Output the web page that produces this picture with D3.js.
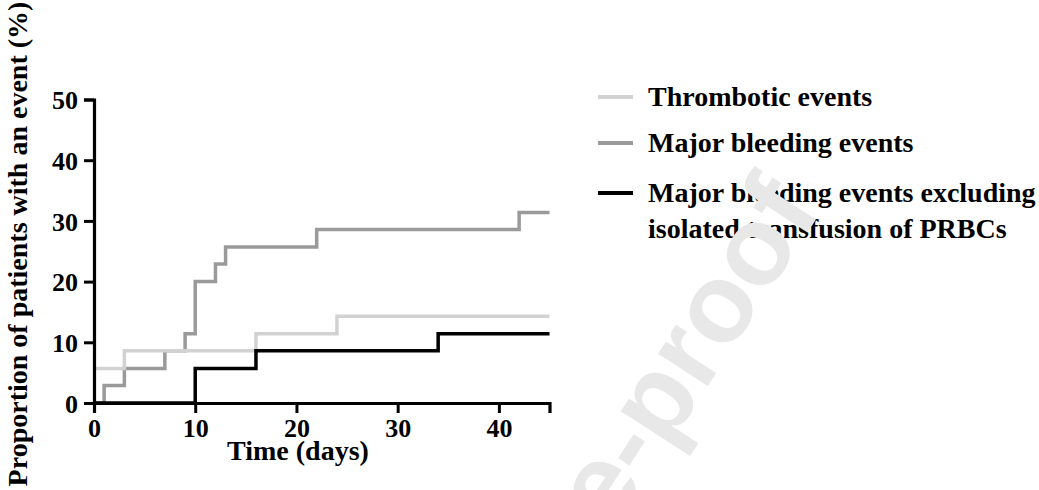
<!DOCTYPE html>
<html>
<head>
<meta charset="utf-8">
<script src="https://cdn.jsdelivr.net/npm/d3@7"></script>
<style>
  body { margin: 0; background: #fff; }
  text { font-family: 'Liberation Serif', 'Times New Roman', serif; font-weight: bold; }
</style>
</head>
<body>
<div class="chart"></div>
<script>
  const width = 1039;
  const height = 490;

  // step times (days) and cumulative proportions (%)
  const thromboTimes = [0, 3, 16, 24, 45];
  const thromboValues = [5.7, 8.6, 11.4, 14.3, 14.3];
  const bleedTimes = [0, 1, 3, 7, 9, 10, 12, 13, 22, 42, 45];
  const bleedValues = [0, 2.9, 5.7, 8.6, 11.4, 20, 22.9, 25.7, 28.6, 31.4, 31.4];
  const bleedExclTimes = [0, 10, 16, 34, 45];
  const bleedExclValues = [0, 5.7, 8.6, 11.4, 11.4];

  const xTicks = [0, 10, 20, 30, 40];
  const yTicks = [0, 10, 20, 30, 40, 50];
  const legendLabels = [
    ['Thrombotic events'],
    ['Major bleeding events'],
    ['Major bleeding events excluding', 'isolated transfusion of PRBCs'],
  ];

  const series = [
    { key: 'bleed', times: bleedTimes, values: bleedValues, color: '#9a9a9a' },
    { key: 'thrombo', times: thromboTimes, values: thromboValues, color: '#d2d2d2' },
    { key: 'excl', times: bleedExclTimes, values: bleedExclValues, color: '#000' },
  ]
  const legendColors = ['#d2d2d2', '#9a9a9a', '#000']

  const xScale = d3.scaleLinear().domain([0, 45]).range([94, 549.5])
  const yScale = d3.scaleLinear().domain([0, 50]).range([403, 99.5])

  const svg = d3.select('.chart').append('svg')
    .attr('width', width)
    .attr('height', height)

  const line = d3.line()
    .x(d => xScale(d[0]))
    .y(d => yScale(d[1]))
    .curve(d3.curveStepAfter)

  svg.append('g').selectAll('path')
    .data(series)
    .join('path')
    .attr('d', s => line(s.times.map((t, i) => [t, s.values[i]])))
    .attr('fill', 'none')
    .attr('stroke', s => s.color)
    .attr('stroke-width', 3.5)

  const xAxis = d3.axisBottom(xScale).tickValues(xTicks).tickSizeOuter(0).tickSize(10).tickPadding(6)
  const yAxis = d3.axisLeft(yScale).tickValues(yTicks).tickSizeOuter(0).tickSize(10).tickPadding(6)

  svg.append('g')
    .attr('transform', `translate(0, ${yScale(0)})`)
    .call(xAxis)
    .call(g => g.select('.domain').attr('stroke-width', 3.2))
    .call(g => g.selectAll('.tick line').attr('stroke-width', 3))
    .call(g => g.selectAll('text').style('font-size', '26px').attr('fill', '#000'))

  svg.append('g')
    .attr('transform', `translate(${xScale(0)}, 0)`)
    .call(yAxis)
    .call(g => g.select('.domain').attr('stroke-width', 3.2))
    .call(g => g.selectAll('.tick line').attr('stroke-width', 3))
    .call(g => g.selectAll('text').style('font-size', '26px').attr('fill', '#000').attr('dy', '0.35em'))

  svg.append('text')
    .attr('x', 298)
    .attr('y', 460)
    .attr('text-anchor', 'middle')
    .style('font-size', '28px')
    .text('Time (days)')

  svg.append('text')
    .attr('transform', 'translate(27, 244) rotate(-90)')
    .attr('text-anchor', 'middle')
    .style('font-size', '28px')
    .text('Proportion of patients with an event (%)')

  // legend
  const legendY = [97, 143, 193]
  const legend = svg.append('g').selectAll('g')
    .data(legendLabels)
    .join('g')
    .attr('transform', (d, i) => `translate(598, ${legendY[i]})`)

  legend.append('line')
    .attr('x1', 0).attr('x2', 35)
    .attr('stroke', (d, i) => legendColors[i])
    .attr('stroke-width', 4)

  legend.append('text')
    .attr('x', 50)
    .style('font-size', '28px')
    .selectAll('tspan')
    .data(d => d)
    .join('tspan')
    .attr('x', 50)
    .attr('y', (d, i) => 9 + i * 36)
    .text(d => d)

  // faint watermark, drawn on top like the source
  svg.append('text')
    .attr('transform', 'translate(822,210) rotate(-57)')
    .attr('text-anchor', 'end')
    .style('font-family', "'Liberation Sans', Arial, sans-serif")
    .style('font-size', '112px')
    .attr('fill', '#e8e8e8')
    .text('Journal Pre-proof')
</script>
</body>
</html>
